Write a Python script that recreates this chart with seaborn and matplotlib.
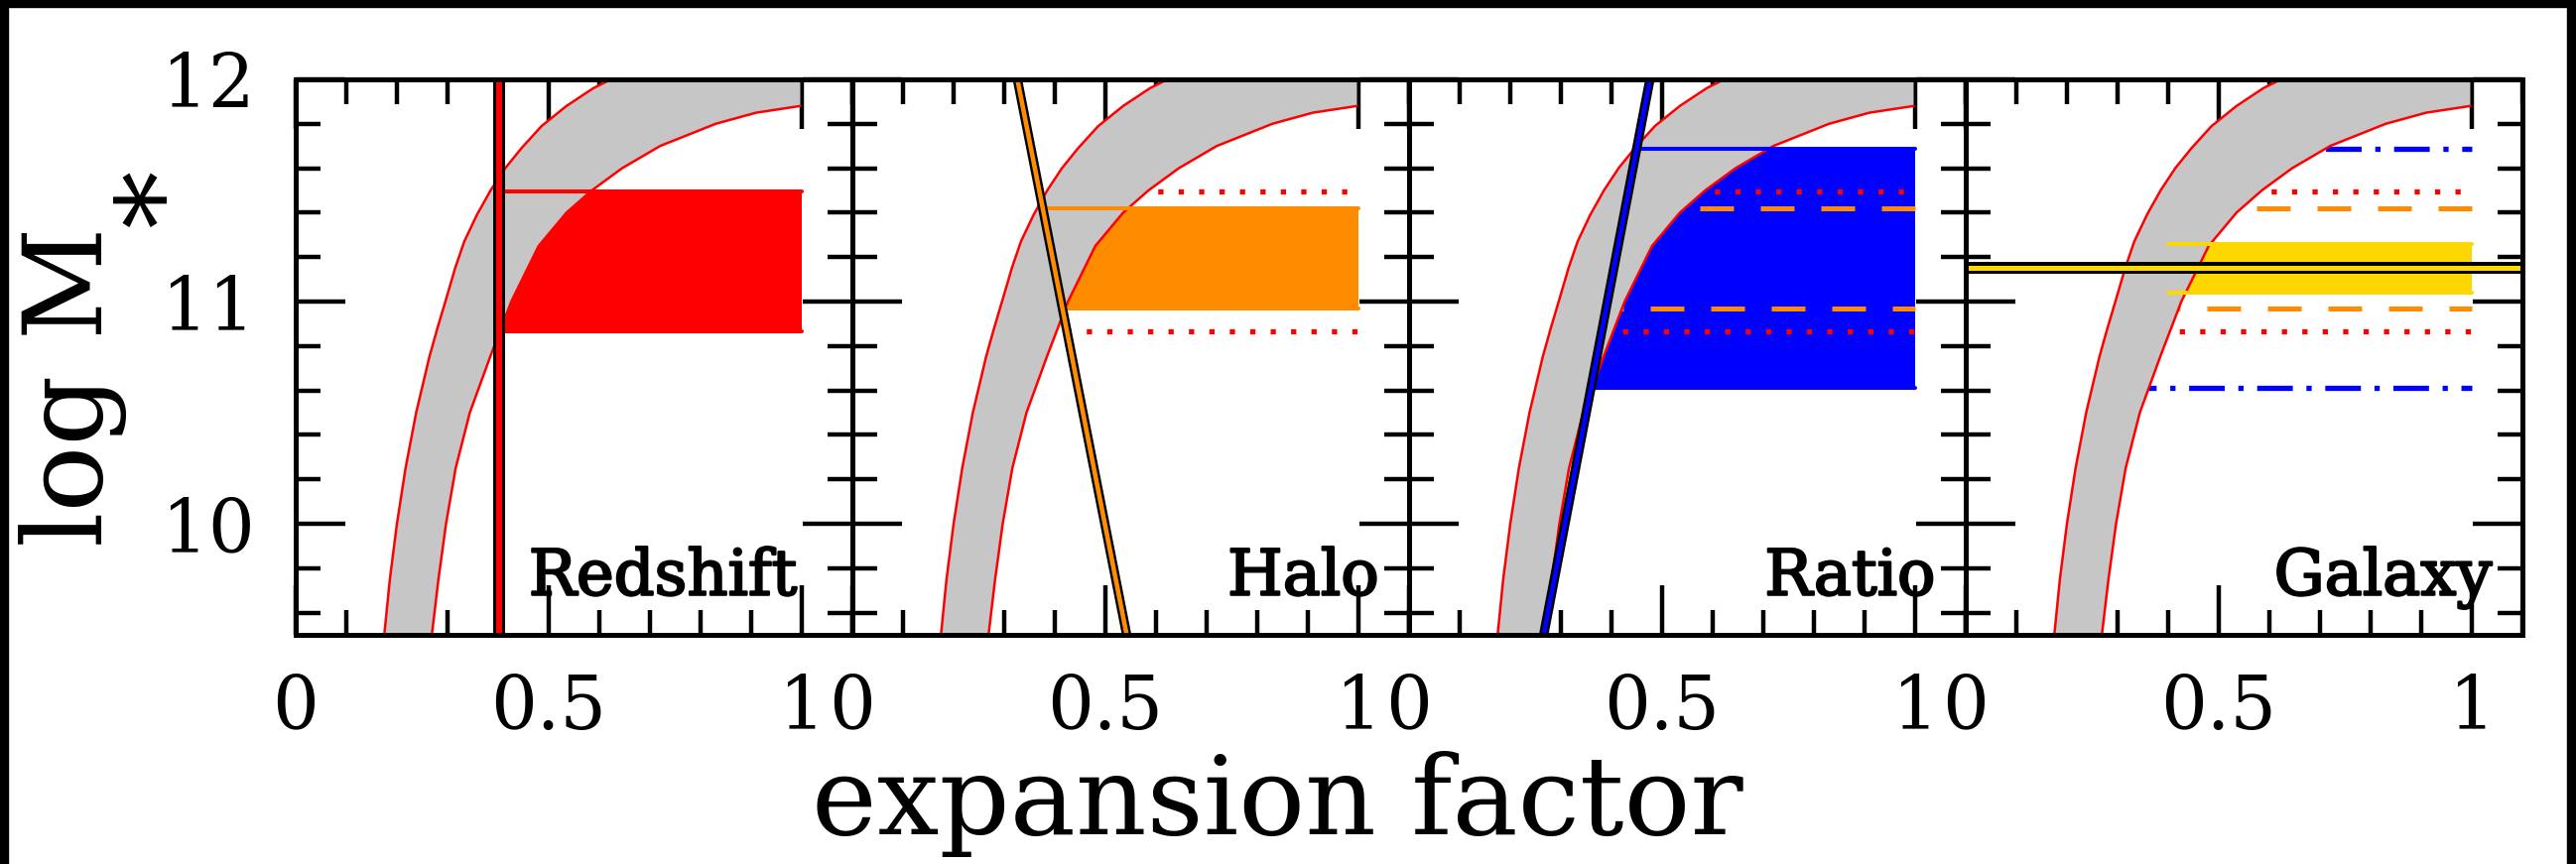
import numpy as np
import pandas as pd
import matplotlib
matplotlib.use("Agg")
import matplotlib.pyplot as plt
import matplotlib.patheffects as pe
from matplotlib.patches import Rectangle
from matplotlib.ticker import FixedLocator, MultipleLocator
import seaborn as sns

# ---- data -------------------------------------------------------------
# grey stellar-mass growth band: early (upper/left) and late (lower/right) edge
band_upper_a = [0.175, 0.186, 0.200, 0.217, 0.238, 0.264, 0.280, 0.297, 0.315, 0.333,
                0.358, 0.385, 0.414, 0.446, 0.486, 0.535, 0.588, 0.623]
band_upper_m = [9.50, 9.75, 10.00, 10.25, 10.50, 10.75, 10.88, 11.01, 11.15, 11.27,
                11.39, 11.50, 11.60, 11.69, 11.79, 11.88, 11.96, 12.00]
band_lower_a = [0.269, 0.282, 0.297, 0.316, 0.344, 0.384, 0.426, 0.480, 0.535, 0.585,
                0.645, 0.720, 0.830, 0.910, 0.997]
band_lower_m = [9.50, 9.75, 10.00, 10.25, 10.50, 10.75, 11.00, 11.25, 11.40, 11.50,
                11.60, 11.70, 11.80, 11.85, 11.88]

panel_names = ["Redshift", "Halo", "Ratio", "Galaxy"]

# selection lines
redshift_a = 0.401
halo_line_a = [0.326, 0.542]
halo_line_m = [12.0, 9.5]
ratio_line_a = [0.476, 0.266]
ratio_line_m = [12.0, 9.5]
galaxy_m = 11.153
galaxy_line_a = [0.0, 1.1]

# resulting mass ranges
redshift_range = [10.866, 11.495]
halo_range = [10.97, 11.42]
ratio_range = [10.61, 11.686]
galaxy_range = [11.04, 11.26]
galaxy_box_a = [0.40, 1.0]
box_end_a = 1.0

# ---- style ------------------------------------------------------------
sns.set_theme(style="ticks")
plt.rcParams["font.family"] = ["DejaVu Serif"]
plt.rcParams["mathtext.fontset"] = "dejavuserif"

RED, ORANGE, BLUE, GOLD, GREY = "#ff0000", "#ff8c00", "#0000ff", "#ffd700", "#c6c6c6"

fig = plt.figure(figsize=(25.96, 8.71), dpi=100)
axes = fig.subplots(1, 4, sharey=True)
fig.subplots_adjust(left=0.1148, right=0.9792, top=0.9082, bottom=0.2652, wspace=0)

up_a, up_m = np.array(band_upper_a), np.array(band_upper_m)
lo_a, lo_m = np.array(band_lower_a), np.array(band_lower_m)


def band_mid(level):
    return 0.5 * (np.interp(level, up_m, up_a) + np.interp(level, lo_m, lo_a))


def ref_lines(ax, levels, color, dashes, lw):
    for lev in levels:
        ax.plot([band_mid(lev), box_end_a], [lev, lev], color=color, lw=lw,
                linestyle=(0, dashes), dash_capstyle="butt", zorder=2)


def mass_box(ax, left_a, rng, color):
    lo, hi = rng
    xs = [left_a[0], box_end_a, box_end_a, left_a[1]]
    ys = [lo, lo, hi, hi]
    ax.fill(xs, ys, color=color, lw=0, zorder=1)
    ax.plot([left_a[1], box_end_a], [hi, hi], color=color, lw=2.9, zorder=5)
    ax.plot([left_a[0], box_end_a], [lo, lo], color=color, lw=2.9, zorder=5)


def outlined(ax, xs, ys, color, lw_out=6.8, lw_in=3.3):
    d = pd.DataFrame({"a": xs, "m": ys})
    sns.lineplot(data=d, x="a", y="m", ax=ax, color="black", lw=lw_out,
                 sort=False, estimator=None, zorder=6)
    sns.lineplot(data=d, x="a", y="m", ax=ax, color=color, lw=lw_in,
                 sort=False, estimator=None, zorder=7)


for i, ax in enumerate(axes):
    # grey band with red edges
    poly_a = np.r_[up_a, lo_a[-1], lo_a[::-1]]
    poly_m = np.r_[up_m, up_m[-1], lo_m[::-1]]
    ax.fill(poly_a, poly_m, color=GREY, lw=0, zorder=3)
    sns.lineplot(x=band_upper_a, y=band_upper_m, ax=ax, color=RED, lw=1.8,
                 sort=False, estimator=None, zorder=4)
    sns.lineplot(x=band_lower_a, y=band_lower_m, ax=ax, color=RED, lw=1.8,
                 sort=False, estimator=None, zorder=4)

    if i >= 1:
        ref_lines(ax, redshift_range, RED, (1.0, 2.9), 3.8)
    if i >= 2:
        ref_lines(ax, halo_range, ORANGE, (6.8, 5.4), 3.6)
    if i >= 3:
        ref_lines(ax, ratio_range, BLUE, (6.8, 2.6, 1.0, 2.6), 3.8)

    if i == 0:
        mass_box(ax, [redshift_a, redshift_a], redshift_range, RED)
        outlined(ax, [redshift_a, redshift_a], [9.5, 12.0], RED, lw_out=8.6, lw_in=4.3)
    elif i == 1:
        la = [np.interp(v, halo_line_m[::-1], halo_line_a[::-1]) for v in halo_range]
        mass_box(ax, la, halo_range, ORANGE)
        outlined(ax, halo_line_a, halo_line_m, ORANGE)
    elif i == 2:
        la = [np.interp(v, ratio_line_m[::-1], ratio_line_a[::-1]) for v in ratio_range]
        mass_box(ax, la, ratio_range, BLUE)
        outlined(ax, ratio_line_a, ratio_line_m, BLUE)
    else:
        mass_box(ax, [galaxy_box_a[0], galaxy_box_a[0]], galaxy_range, GOLD)
        outlined(ax, galaxy_line_a, [galaxy_m, galaxy_m], GOLD, lw_out=8.6, lw_in=3.6)

    ax.set_xlim(0, 1.1)
    ax.set_ylim(9.5, 12)
    ax.set_xlabel("")
    ax.set_ylabel("")
    ax.xaxis.set_major_locator(FixedLocator([0, 0.5, 1.0]))
    ax.xaxis.set_minor_locator(MultipleLocator(0.1))
    ax.yaxis.set_major_locator(FixedLocator([10, 11, 12]))
    ax.yaxis.set_minor_locator(MultipleLocator(0.2))
    ax.set_xticklabels(["0", "0.5", "1"])
    ax.tick_params(which="both", direction="in", top=True, right=True,
                   width=3.2, color="black", labelcolor="black")
    ax.tick_params(which="major", length=36, labelsize=53)
    ax.tick_params(which="minor", length=18)
    ax.tick_params(axis="x", which="major", pad=27)
    ax.tick_params(axis="y", which="major", pad=30, labelleft=(i == 0))
    for sp in ax.spines.values():
        sp.set_linewidth(3.6)
        sp.set_color("black")
        sp.set_zorder(9)
    lbl_x = 0.99 if i == 0 else 1.04
    ax.text(lbl_x, 9.68, panel_names[i], ha="right", va="baseline",
            fontsize=46, color="black", zorder=10,
            path_effects=[pe.withStroke(linewidth=1.6, foreground="black")])

# y-axis title: "log M" with a large subscript asterisk
fig.text(0.0397, 0.553, "log M", rotation=90, rotation_mode="anchor",
         ha="center", va="baseline", fontsize=80, color="black")
fig.text(0.0775, 0.770, "*", rotation=90, rotation_mode="anchor",
         ha="center", va="baseline", fontsize=84, color="black")
fig.text(0.496, 0.0345, "expansion factor", ha="center", va="baseline",
         fontsize=80, color="black")

# dark frame along the left, top and right edges
for (x0, y0, w, h) in [(0, 0, 8 / 2596, 1), (0, 1 - 7 / 871, 1, 7 / 871),
                       (2587 / 2596, 0, 9 / 2596, 1)]:
    fig.patches.append(Rectangle((x0, y0), w, h, transform=fig.transFigure,
                                 color="black", zorder=20))

fig.savefig("out.png", dpi=100, facecolor="white")
